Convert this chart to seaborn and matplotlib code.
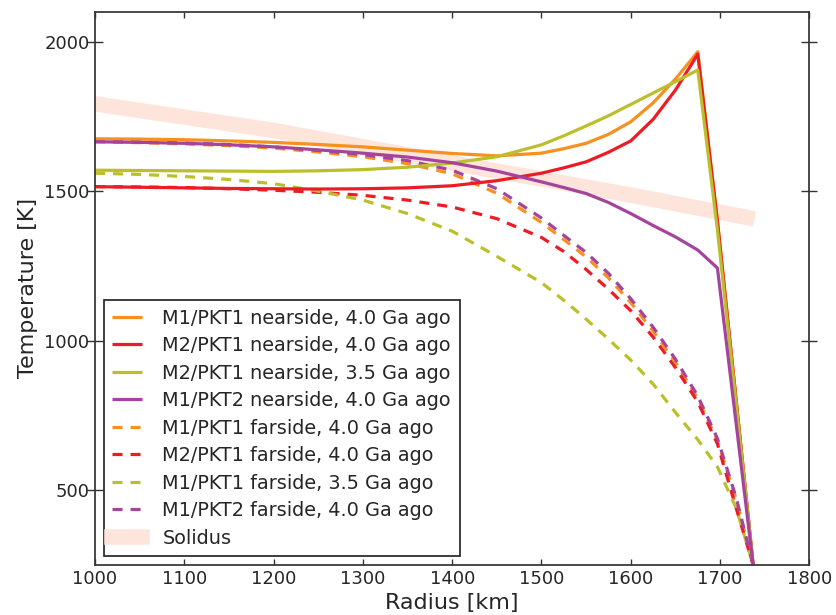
import matplotlib
matplotlib.use('Agg')
from matplotlib import pyplot as plt
import seaborn as sns

sns.set_style('ticks', {'xtick.direction': 'in', 'ytick.direction': 'in',
                        'axes.edgecolor': '#333333'})
plt.rcParams['lines.scale_dashes'] = False
plt.rcParams['font.family'] = ['DejaVu Sans']

# radius grid [km]
radius = [1000, 1050, 1100, 1150, 1200, 1250, 1300, 1350, 1400, 1450, 1500,
          1525, 1550, 1575, 1600, 1625, 1650, 1675, 1697, 1718, 1737]

# nearside profiles [K]
m1pkt1_near_40 = [1675, 1674, 1672, 1668, 1663, 1656, 1648, 1637, 1626, 1618, 1627,
                  1642, 1660, 1690, 1732, 1795, 1875, 1966, 1400, 800, 250]
m2pkt1_near_40 = [1515, 1513, 1511, 1509, 1508, 1507, 1508, 1511, 1518, 1535, 1560,
                  1578, 1598, 1630, 1668, 1740, 1838, 1958, 1400, 800, 250]
m2pkt1_near_35 = [1570, 1569, 1568, 1567, 1566, 1568, 1572, 1580, 1594, 1615, 1655,
                  1685, 1718, 1752, 1790, 1828, 1866, 1905, 1370, 790, 250]
m1pkt2_near_40 = [1665, 1663, 1660, 1655, 1648, 1638, 1627, 1614, 1595, 1567, 1531,
                  1512, 1492, 1462, 1425, 1385, 1347, 1303, 1243, 722, 250]

# farside profiles [K]
m1pkt1_far_40 = [1665, 1662, 1658, 1652, 1644, 1631, 1615, 1592, 1558, 1493, 1395,
                 1338, 1280, 1210, 1127, 1032, 928, 806, 665, 470, 250]
m2pkt1_far_40 = [1515, 1514, 1512, 1508, 1503, 1496, 1486, 1470, 1447, 1408, 1345,
                 1298, 1238, 1172, 1100, 1012, 910, 795, 655, 440, 250]
m1pkt1_far_35 = [1560, 1556, 1549, 1539, 1525, 1500, 1470, 1425, 1366, 1282, 1194,
                 1135, 1072, 1005, 935, 855, 760, 669, 578, 440, 250]
m1pkt2_far_40 = [1668, 1665, 1661, 1656, 1648, 1636, 1622, 1602, 1570, 1508, 1410,
                 1352, 1295, 1225, 1140, 1045, 938, 815, 673, 475, 250]

solidus_r = [1000, 1200, 1400, 1600, 1730]
solidus_t = [1792, 1703, 1594, 1487, 1412]

near = [('M1/PKT1 nearside, 4.0 Ga ago', m1pkt1_near_40, '#f7901e'),
        ('M2/PKT1 nearside, 4.0 Ga ago', m2pkt1_near_40, '#ed1c24'),
        ('M2/PKT1 nearside, 3.5 Ga ago', m2pkt1_near_35, '#bcbf2c'),
        ('M1/PKT2 nearside, 4.0 Ga ago', m1pkt2_near_40, '#a4449c')]
far = [('M1/PKT1 farside, 4.0 Ga ago', m1pkt1_far_40, '#f7901e'),
       ('M2/PKT1 farside, 4.0 Ga ago', m2pkt1_far_40, '#ed1c24'),
       ('M1/PKT1 farside, 3.5 Ga ago', m1pkt1_far_35, '#bcbf2c'),
       ('M1/PKT2 farside, 4.0 Ga ago', m1pkt2_far_40, '#a4449c')]

fig = plt.figure(figsize=(8.36, 6.15), dpi=100)
ax = fig.add_axes([0.1136, 0.0813, 0.8546, 0.8997])

sns.lineplot(x=solidus_r, y=solidus_t, color='#fde5dc', lw=11.2, ax=ax)
solidus_line = ax.get_lines()[-1]
solidus_line.set_solid_capstyle('projecting')

far_lines = []
for name, vals, c in far:
    sns.lineplot(x=radius, y=vals, color=c, lw=2.3, ls=(0, (7.2, 5.8)), ax=ax)
    far_lines.append(ax.get_lines()[-1])
near_lines = []
for name, vals, c in near:
    sns.lineplot(x=radius, y=vals, color=c, lw=2.3, ax=ax)
    ax.get_lines()[-1].set_solid_capstyle('butt')
    near_lines.append(ax.get_lines()[-1])

ax.set(xlim=(1000, 1800), ylim=(250, 2100))
ax.set_xticks(range(1000, 1801, 100))
ax.set_yticks([500, 1000, 1500, 2000])
ax.tick_params(axis='both', labelsize=13, length=4.5, width=1, color='#333333',
               top=True, right=True)
ax.tick_params(axis='y', which='major', left=True, direction='inout', length=11, pad=-1.5)
ax.tick_params(axis='y', right=True)
for s in ax.spines.values():
    s.set_linewidth(1.25)
ax.set_xlabel('Radius [km]', fontsize=16)
ax.set_ylabel('Temperature [K]', fontsize=16)

handles = near_lines + far_lines + [solidus_line]
labels = [n for n, _, _ in near] + [n for n, _, _ in far] + ['Solidus']
leg = ax.legend(handles, labels, loc='lower left', fontsize=13.9, labelspacing=0.44,
                handlelength=1.55, handletextpad=1.04, borderpad=0.45, borderaxespad=0.45,
                fancybox=False, framealpha=1, edgecolor='#262626')
leg.get_frame().set_linewidth(1.25)

plt.savefig('out.png', dpi=100)
print('finished')
